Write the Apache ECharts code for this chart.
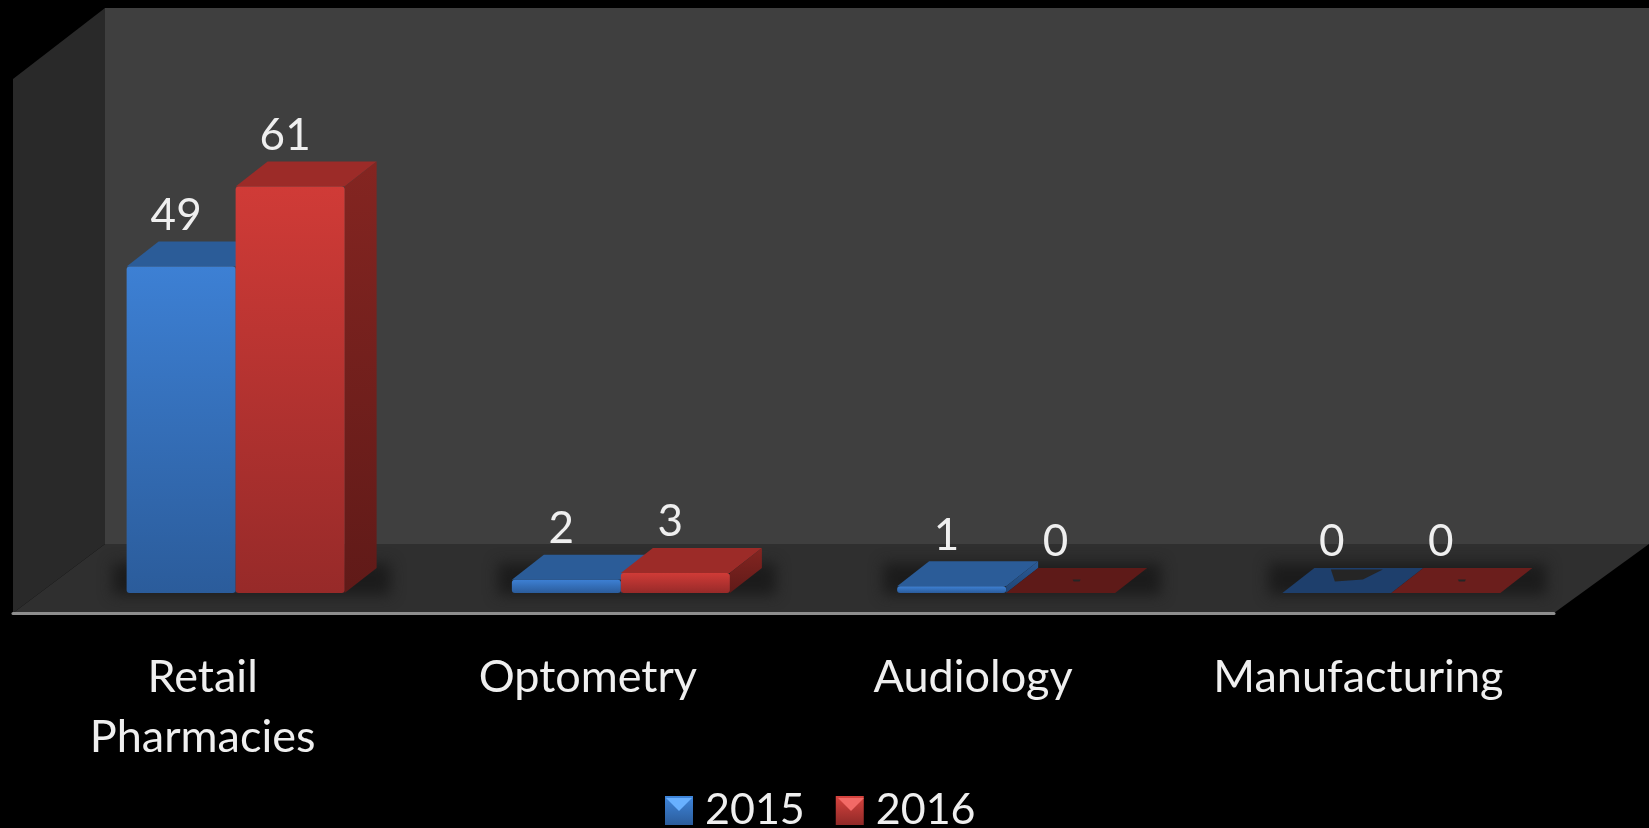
<!DOCTYPE html>
<html>
<head>
<meta charset="utf-8">
<style>html,body{margin:0;padding:0;background:#000}#c{width:1649px;height:828px}</style>
<script src="https://cdn.jsdelivr.net/npm/echarts@6/dist/echarts.min.js"></script>
</head>
<body>
<div id="c"></div>
<script>
const categories = ['Retail\nPharmacies', 'Optometry', 'Audiology', 'Manufacturing'];
const values2015 = [49, 2, 1, 0];
const values2016 = [61, 3, 0, 0];
const seriesNames = ['2015', '2016'];

const FONT = 'Lato';
const BAR_W = 109, DEPTH_X = 32, DEPTH_Y = 25, SHIFT = 30;

const palettes = [
  { front: ['#3d80d4', '#2b5c9b'], top: '#2b5c98', zero: ['#2b5c98', '#1e3f6c'] },
  { front: ['#d03b37', '#972a29'], top: '#9c2b28', zero: ['#5e1a18', '#6b1e1c'] }
];

function grad(a, b) {
  return new echarts.graphic.LinearGradient(0, 0, 0, 1, [{ offset: 0, color: a }, { offset: 1, color: b }]);
}

function barRenderer(si) {
  const p = palettes[si];
  return function (params, api) {
    const i = api.value(0), v = api.value(1);
    const base = api.coord([i, 0]), top = api.coord([i, v]);
    const x0 = base[0] + SHIFT + (si === 0 ? -BAR_W : 0), x1 = x0 + BAR_W;
    const yb = base[1], yt = top[1];
    const children = [];
    const topColor = v === 0 ? p.zero[i === 3 ? 1 : 0] : p.top;
    children.push({ type: 'polygon', shape: { points: [[x0, yt], [x0 + DEPTH_X, yt - DEPTH_Y], [x1 + DEPTH_X, yt - DEPTH_Y], [x1, yt]] }, style: { fill: topColor } });
    if (v > 0) {
      children.push({ type: 'polygon', shape: { points: [[x1, yt], [x1 + DEPTH_X, yt - DEPTH_Y], [x1 + DEPTH_X, yb - DEPTH_Y], [x1, yb]] }, style: { fill: grad(si === 0 ? '#2b5c98' : '#842521', si === 0 ? '#1f4475' : '#601a18') } });
      children.push({ type: 'rect', shape: { x: x0, y: yt, width: BAR_W, height: yb - yt, r: 3 }, style: { fill: grad(p.front[0], p.front[1]) } });
    } else {
      const cx = x0 + BAR_W / 2 + DEPTH_X / 2;
      const cy = yb - DEPTH_Y / 2;
      const hole = (i === 3 && si === 0)
        ? [[cx - 22, cy - 11], [cx + 30, cy - 11], [cx + 10, cy - 1], [cx - 18, cy + 1]]
        : [[cx - 4, cy - 1], [cx + 4, cy - 1], [cx + 3, cy + 1], [cx - 3, cy + 1]];
      children.push({ type: 'polygon', shape: { points: hole }, style: { fill: '#252525' } });
    }
    children.push({
      type: 'text',
      style: { x: (x0 + x1) / 2 - 5, y: yt - 51, text: String(v), fill: '#efefef', font: '44px ' + FONT, align: 'center', verticalAlign: 'middle' }
    });
    return { type: 'group', children };
  };
}

function shadowRenderer(params, api) {
  const base = api.coord([api.value(0), 0]);
  const x = base[0] + SHIFT - BAR_W - 14;
  const OFF = 4000;
  return {
    type: 'rect',
    shape: { x: x - OFF, y: base[1] - 30, width: BAR_W * 2 + 14 + DEPTH_X + 14, height: 32 },
    style: { fill: '#000', shadowBlur: 14, shadowColor: '#1c1c1c', shadowOffsetX: OFF }
  };
}

const chart = echarts.init(document.getElementById('c'), null, { renderer: 'canvas' });

const room = [
  { pts: [[105, 8], [1649, 8], [1649, 544], [105, 544]], fill: '#3f3f3f' },
  { pts: [[13, 79], [105, 8], [105, 544], [13, 613]], fill: '#292929' },
  { pts: [[13, 613], [105, 544], [1649, 544], [1554, 613]], fill: '#2f2f2f' }
];
const pyramids = [
  { pts: [[666, 798], [692, 798], [679, 811]], fill: '#68b0ff' },
  { pts: [[838, 798], [864, 798], [851, 811]], fill: '#f26a66' }
];

chart.setOption({
  animation: false,
  backgroundColor: '#000',
  grid: { left: 13, right: 95, top: 60, bottom: 235 },
  xAxis: {
    type: 'category',
    data: categories,
    offset: 20,
    axisLine: { show: true, onZero: false, lineStyle: { color: '#8e8e8e', width: 3 } },
    axisTick: { show: false },
    axisLabel: { color: '#efefef', fontFamily: FONT, fontSize: 45, lineHeight: 60, margin: 34, interval: 0, verticalAlign: 'top', padding: [0, 6, 0, 0] }
  },
  yAxis: { type: 'value', min: 0, max: 80, show: false, splitLine: { show: false } },
  legend: {
    data: seriesNames,
    left: 665, top: 789, padding: 0,
    itemWidth: 28, itemHeight: 29, itemGap: 31,
    icon: 'rect',
    textStyle: { color: '#efefef', fontFamily: FONT, fontSize: 43, padding: [0, 0, 0, 7] },
    selectedMode: false
  },
  graphic: {
    elements: room.map(r => ({ type: 'polygon', z: -10, silent: true, shape: { points: r.pts }, style: { fill: r.fill } }))
      .concat(pyramids.map(r => ({ type: 'polygon', z: 100, silent: true, shape: { points: r.pts }, style: { fill: r.fill } })))
  },
  series: [
    { type: 'custom', name: 'shadow', z: 1, silent: true, renderItem: shadowRenderer, encode: { x: 0, y: 1 },
      data: categories.map((c, i) => [i, 0]) },
    { type: 'custom', name: seriesNames[0], z: 2, renderItem: barRenderer(0), encode: { x: 0, y: 1 },
      itemStyle: { color: grad('#3f86dc', '#2b5c9b') },
      data: values2015.map((v, i) => [i, v]) },
    { type: 'custom', name: seriesNames[1], z: 3, renderItem: barRenderer(1), encode: { x: 0, y: 1 },
      itemStyle: { color: grad('#d8443f', '#8f2927') },
      data: values2016.map((v, i) => [i, v]) }
  ]
});
</script>
</body>
</html>
